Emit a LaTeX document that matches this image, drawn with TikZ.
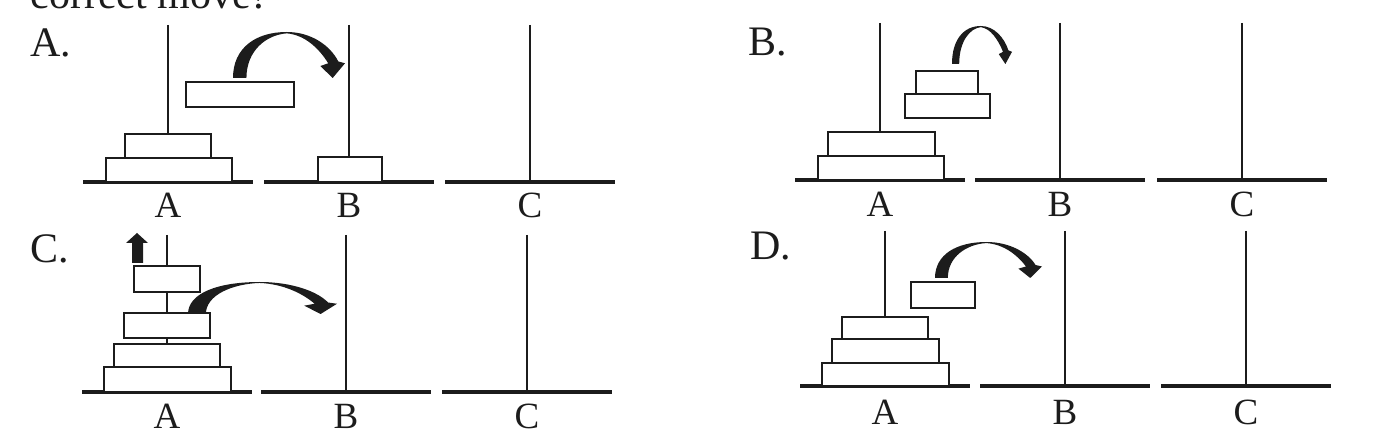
\documentclass[tikz,border=0pt]{standalone}
\usepackage{fontspec}
\setmainfont{Liberation Serif}
\usetikzlibrary{positioning}
\definecolor{inkgray}{RGB}{28,28,28}

\begin{document}
\begin{tikzpicture}[x=0.5pt,y=-0.5pt,
    pole/.style={draw=inkgray,line width=1.35pt},
    groundline/.style={draw=inkgray,line width=1.75pt},
    disk/.style={draw=inkgray,line width=1.3pt,fill=white},
    peglabel/.style={anchor=base,inner sep=0pt,text=inkgray,font=\fontsize{18.5}{20}\selectfont},
    panellabel/.style={anchor=base west,inner sep=0pt,text=inkgray,font=\fontsize{21}{24}\selectfont},
    hop/.pic={\fill[inkgray] (0,1) .. controls (0,0.35) and (0.2,0) .. (0.48,0)
        .. controls (0.7,0) and (0.87,0.3) .. (0.94,0.64)
        -- (1,0.68) -- (0.89,1) -- (0.78,0.74) -- (0.85,0.68)
        .. controls (0.77,0.36) and (0.64,0.06) .. (0.48,0.03)
        .. controls (0.3,0.06) and (0.12,0.4) .. (0.12,1) -- cycle;}]
  \useasboundingbox (0,0) rectangle (1388,443);
  \clip (0,0) rectangle (1388,443);

  \node[panellabel] (question) at (30,9) {correct move?};

  % option A
  \node[panellabel] (optA) at (30,57) {A.};
  \foreach \px/\peg in {168/A,349/B,530/C}{
    \draw[pole] (\px,25) -- (\px,182);
    \draw[groundline] (\px-85,182) -- (\px+85,182);
    \node[peglabel] (a\peg) at (\px,218) {\peg};
  }
  \draw[disk] (106,158) rectangle (232,182);
  \draw[disk] (125,134) rectangle (211,158);
  \draw[disk] (318,157) rectangle (382,182);
  \draw[disk] (186,82) rectangle (294,107);
  \pic[xscale=112,yscale=46] at (233,32) {hop};

  % option B
  \node[panellabel] (optB) at (748,56) {B.};
  \foreach \px/\peg in {880/A,1060/B,1242/C}{
    \draw[pole] (\px,23) -- (\px,180);
    \draw[groundline] (\px-85,180) -- (\px+85,180);
    \node[peglabel] (b\peg) at (\px,217) {\peg};
  }
  \draw[disk] (818,156) rectangle (944,180);
  \draw[disk] (828,132) rectangle (935,156);
  \draw[disk] (905,94) rectangle (990,118);
  \draw[disk] (916,71) rectangle (978,94);
  \pic[xscale=60,yscale=38] at (952,26) {hop};

  % option C
  \node[panellabel] (optC) at (30,263) {C.};
  \foreach \px/\peg in {167/A,346/B,527/C}{
    \draw[pole] (\px,235) -- (\px,392);
    \draw[groundline] (\px-85,392) -- (\px+85,392);
    \node[peglabel] (c\peg) at (\px,429) {\peg};
  }
  \draw[disk] (104,367) rectangle (231,392);
  \draw[disk] (114,344) rectangle (220,367);
  \draw[disk] (124,313) rectangle (210,338);
  \draw[disk] (134,266) rectangle (200,292);
  \fill[inkgray] (132,263) -- (132,243) -- (126,243) -- (137,233)
    -- (148,243) -- (143,243) -- (143,263) -- cycle;
  \pic[xscale=149,yscale=32] at (188,282) {hop};

  % option D
  \node[panellabel] (optD) at (750,260) {D.};
  \foreach \px/\peg in {885/A,1065/B,1246/C}{
    \draw[pole] (\px,231) -- (\px,386);
    \draw[groundline] (\px-85,386) -- (\px+85,386);
    \node[peglabel] (d\peg) at (\px,424) {\peg};
  }
  \draw[disk] (822,363) rectangle (949,386);
  \draw[disk] (832,339) rectangle (939,363);
  \draw[disk] (842,317) rectangle (928,339);
  \draw[disk] (911,282) rectangle (975,308);
  \pic[xscale=107,yscale=36] at (935,242) {hop};
\end{tikzpicture}
\end{document}
